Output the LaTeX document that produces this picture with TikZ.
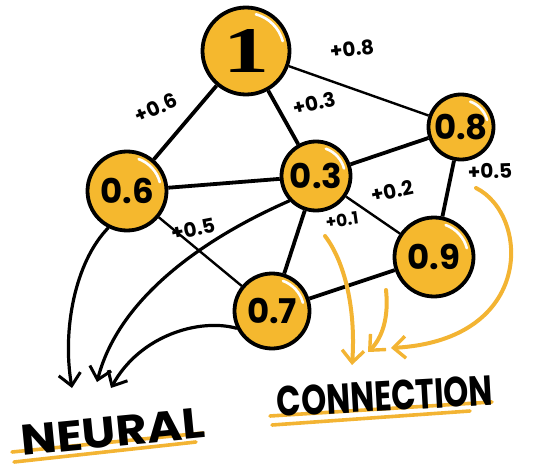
\documentclass[tikz,border=0pt]{standalone}
\usepackage{fontspec}
\usepackage{graphicx}
\setmainfont{Poppins}
\newfontfamily\onefont{Liberation Serif}
\usetikzlibrary{arrows.meta}
\definecolor{nyellow}{HTML}{F5B82E}
\definecolor{ayellow}{HTML}{F3B433}
\begin{document}
\begin{tikzpicture}[x=1pt,y=-1pt,
  neuron/.style={circle,draw=black,line width=3.8pt,fill=nyellow,inner sep=0pt,font=\bfseries\fontsize{34}{34}\selectfont},
  link/.style={line width=3.8pt},
  thinlink/.style={line width=2.4pt},
  wlabel/.style={font=\bfseries\fontsize{20}{20}\selectfont,inner sep=0pt},
  narrow/.style={line width=3.2pt,line cap=round,-{Straight Barb[length=12pt,width=22pt,line width=3pt]}},
  yarrow/.style={draw=ayellow,line width=4pt,line cap=round,-{Straight Barb[length=12pt,width=22pt,line width=3.4pt]}},
  highlight/.style={white,line width=2.6pt,line cap=round},
  uline/.style={ayellow,line width=3.6pt,line cap=round},
  title/.style={font=\bfseries,inner sep=0pt}]
\useasboundingbox (0,0) rectangle (543,468);
% neurons
\node[neuron,minimum size=87pt] (n1) at (246,51) {\onefont\bfseries\resizebox{46pt}{43pt}{1}};
\node[neuron,minimum size=65pt] (n08) at (461,127) {0.8};
\node[neuron,minimum size=69pt] (n03) at (316,176) {0.3};
\node[neuron,minimum size=79pt] (n09) at (434,257) {0.9};
\node[neuron,minimum size=79pt] (n06) at (127,191) {0.6};
\node[neuron,minimum size=75pt] (n07) at (272,311) {0.7};
% highlights
\draw[highlight] (n1.center) ++(-15:38) arc[start angle=-15,end angle=-75,radius=38];
\draw[highlight] (n08.center) ++(-15:27) arc[start angle=-15,end angle=-70,radius=27];
\draw[highlight] (n03.center) ++(-15:29) arc[start angle=-15,end angle=-70,radius=29];
\draw[highlight] (n09.center) ++(-15:34) arc[start angle=-15,end angle=-70,radius=34];
\draw[highlight] (n06.center) ++(-15:34) arc[start angle=-15,end angle=-70,radius=34];
\draw[highlight] (n07.center) ++(-15:32) arc[start angle=-15,end angle=-70,radius=32];
% connections
\draw[link] (n1) -- (n06);
\draw[link] (n1) -- (n03);
\draw[thinlink] (n1) -- (n08);
\draw[link] (n06) -- (n03);
\draw[thinlink] (n06) -- (n07);
\draw[link] (n03) -- (n08);
\draw[thinlink] (n03) -- (n09);
\draw[link] (n03) -- (n07);
\draw[link] (n08) -- (n09);
\draw[link] (n07) -- (n09);
% weights
\node[wlabel,rotate=24] (l1) at (156,108) {+0.6};
\node[wlabel,rotate=13] (l2) at (314,103) {+0.3};
\node[wlabel,rotate=7] (l3) at (352,49) {+0.8};
\node[wlabel,rotate=2] (l4) at (490,171) {+0.5};
\node[wlabel,rotate=8,font=\bfseries\fontsize{17}{17}\selectfont] (l5) at (342,220) {+0.1};
\node[wlabel,rotate=12] (l6) at (392,191) {+0.2};
\node[wlabel,rotate=11] (l7) at (193,229) {+0.5};
% black arrows to NEURAL
\coordinate (t1) at (72,388);
\coordinate (t2) at (97,382);
\coordinate (t3) at (111,388);
\draw[narrow] (n06.243) .. controls (75,262) and (62,330) .. (t1);
\draw[narrow] (n03.223) .. controls (200,240) and (118,300) .. (t2);
\draw[narrow] (n07.206) .. controls (200,318) and (140,335) .. (t3);
% yellow arrows to CONNECTION
\coordinate (y1s) at (325,236);
\coordinate (y2s) at (386,290);
\coordinate (y3s) at (476,188);
\coordinate (y1t) at (352,365);
\coordinate (y2t) at (368,352);
\coordinate (y3t) at (391,348);
\draw[yarrow] (y1s) .. controls (345,262) and (356,310) .. (y1t);
\draw[yarrow] (y2s) .. controls (389,318) and (382,338) .. (y2t);
\draw[yarrow] (y3s) .. controls (530,215) and (535,340) .. (y3t);
% titles
\draw[uline] (12,452) -- (203,433);
\draw[uline] (14,462) -- (196,442);
\draw[uline] (270,416) -- (492,402);
\draw[uline] (272,425) -- (470,411);
\node[title,rotate=5.6] (neural) at (113,432) {\resizebox{185pt}{30pt}{NEURAL}};
\node[title,rotate=3.2] (conn) at (385,396) {\resizebox{216pt}{30pt}{CONNECTION}};
\end{tikzpicture}
\end{document}
